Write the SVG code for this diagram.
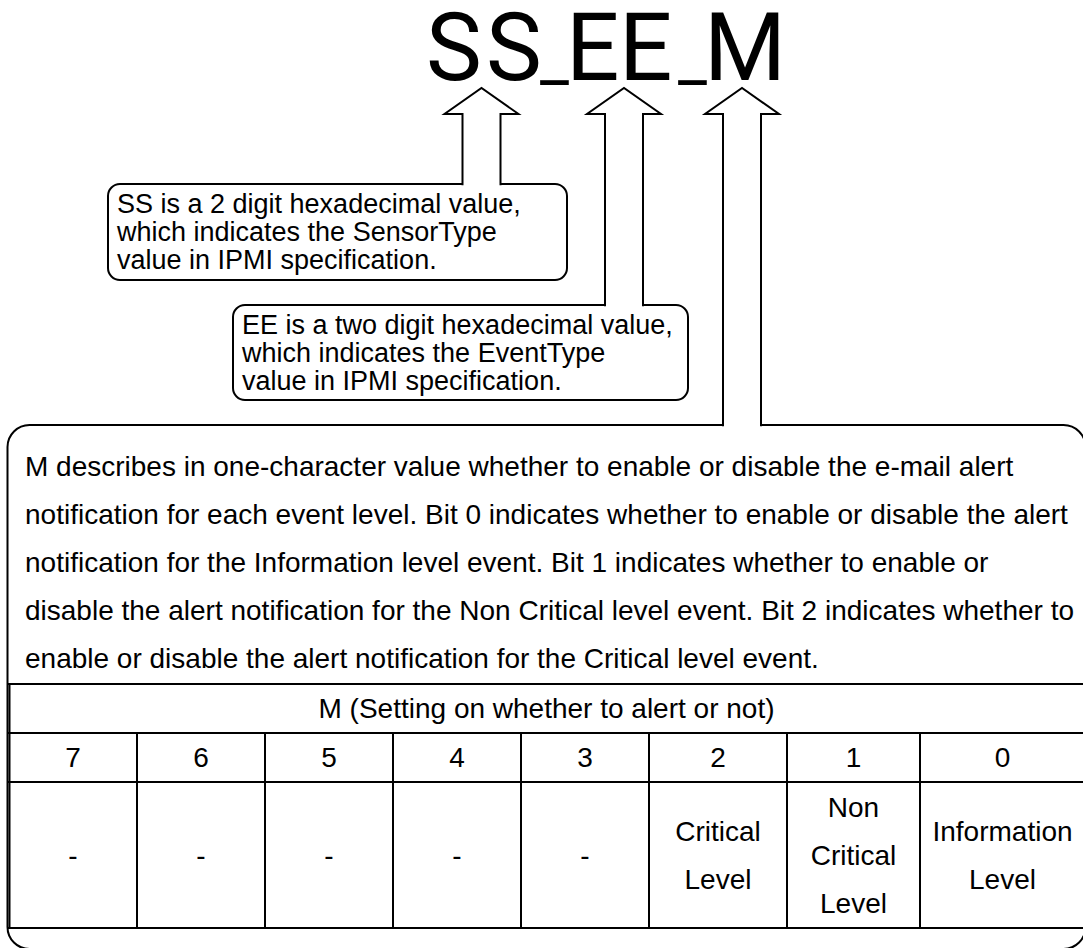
<svg xmlns="http://www.w3.org/2000/svg" width="1083" height="948" viewBox="0 0 1083 948">
<style>
.box{fill:#fff;stroke:#000;stroke-width:2}
.arr{fill:#fff;stroke:#000;stroke-width:2;stroke-linejoin:miter}
.ln{stroke:#000;stroke-width:2;fill:none}
.t{font-family:"Liberation Sans",Arial,sans-serif;fill:#000}
.c27{font-size:27px}
.c28{font-size:28px}
.mid{text-anchor:middle}
.us{font-size:64px}
</style>
<rect width="1083" height="948" fill="#fff"/>
<g id="title">
<text class="t" x="426 486 540 566 619 678 704" y="80" style="font-family:Roboto,'Liberation Sans',sans-serif;font-size:94px">SS<tspan class="us">_</tspan>EE<tspan class="us">_</tspan>M</text>
</g>
<g id="node-ss">
<rect class="box" x="108" y="184" width="459" height="96" rx="12"/>
<text class="t c27" x="117" y="213">SS is a 2 digit hexadecimal value,</text>
<text class="t c27" x="117" y="241">which indicates the SensorType</text>
<text class="t c27" x="117" y="269">value in IPMI specification.</text>
</g>
<g id="node-ee">
<rect class="box" x="233" y="305" width="455" height="95" rx="12"/>
<text class="t c27" x="242" y="334">EE is a two digit hexadecimal value,</text>
<text class="t c27" x="242" y="362">which indicates the EventType</text>
<text class="t c27" x="242" y="390">value in IPMI specification.</text>
</g>
<g id="node-m">
<rect class="box" x="7.5" y="425" width="1078" height="524" rx="22"/>
<text class="t c28" x="25" y="476">M describes in one-character value whether to enable or disable the e-mail alert</text>
<text class="t c28" x="25" y="524">notification for each event level. Bit 0 indicates whether to enable or disable the alert</text>
<text class="t c28" x="25" y="572">notification for the Information level event. Bit 1 indicates whether to enable or</text>
<text class="t c28" x="25" y="620">disable the alert notification for the Non Critical level event. Bit 2 indicates whether to</text>
<text class="t c28" x="25" y="668">enable or disable the alert notification for the Critical level event.</text>
<g id="table">
<path class="ln" d="M7.5 684H1086M9.5 684V928M7.5 733H1086M7.5 782H1086M7.5 928H1086M137 733V928M265 733V928M393 733V928M521 733V928M649 733V928M787 733V928M920 733V928"/>
<text class="t c28 mid" x="546.5" y="718">M (Setting on whether to alert or not)</text>
<text class="t c28 mid" x="73" y="767">7</text>
<text class="t c28 mid" x="201" y="767">6</text>
<text class="t c28 mid" x="329" y="767">5</text>
<text class="t c28 mid" x="457" y="767">4</text>
<text class="t c28 mid" x="585" y="767">3</text>
<text class="t c28 mid" x="718" y="767">2</text>
<text class="t c28 mid" x="853.5" y="767">1</text>
<text class="t c28 mid" x="1002.5" y="767">0</text>
<text class="t c28 mid" x="73" y="865">-</text>
<text class="t c28 mid" x="201" y="865">-</text>
<text class="t c28 mid" x="329" y="865">-</text>
<text class="t c28 mid" x="457" y="865">-</text>
<text class="t c28 mid" x="585" y="865">-</text>
<text class="t c28 mid" x="718" y="841">Critical</text>
<text class="t c28 mid" x="718" y="889">Level</text>
<text class="t c28 mid" x="853.5" y="817">Non</text>
<text class="t c28 mid" x="853.5" y="865">Critical</text>
<text class="t c28 mid" x="853.5" y="913">Level</text>
<text class="t c28 mid" x="1002.5" y="841">Information</text>
<text class="t c28 mid" x="1002.5" y="889">Level</text>
</g>
</g>
<g id="connectors">
<path class="arr" d="M462.5 185.2V114H444.5L481.5 88L518.5 114H500.5V185.2"/>
<path class="arr" d="M605 306.2V114H587L624 88L661 114H643V306.2"/>
<path class="arr" d="M723 426.2V114H705L742 88L779 114H761V426.2"/>
</g>
</svg>
